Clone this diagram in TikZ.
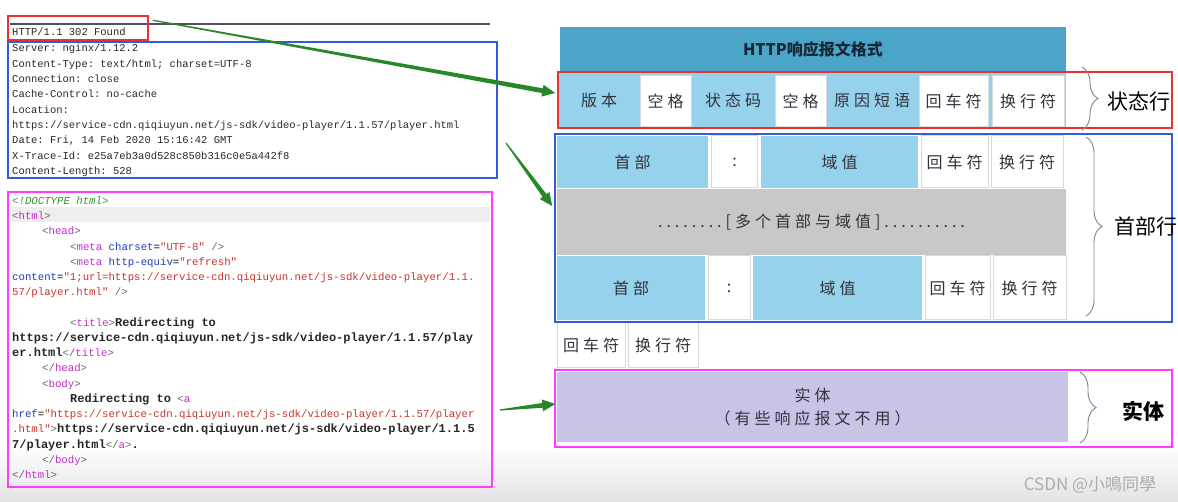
\documentclass[tikz,border=0pt]{standalone}
\usepackage{fontspec}
\setmainfont{Noto Sans CJK SC}
\setmonofont{Liberation Mono}
\newfontfamily\cellfont[LetterSpace=25]{Noto Sans CJK SC}
\usetikzlibrary{positioning,calc,decorations.pathreplacing}
\definecolor{framered}{RGB}{235,50,50}
\definecolor{frameblue}{RGB}{50,90,220}
\definecolor{framemagenta}{RGB}{255,60,255}
\definecolor{titleteal}{RGB}{75,165,200}
\definecolor{titletext}{RGB}{25,40,55}
\definecolor{cellblue}{RGB}{150,210,235}
\definecolor{bandgray}{RGB}{200,200,200}
\definecolor{entitypurple}{RGB}{200,196,230}
\definecolor{celltext}{RGB}{50,50,60}
\definecolor{bracegray}{RGB}{120,135,155}
\definecolor{arrowgreen}{RGB}{40,135,40}
\definecolor{monogray}{RGB}{40,40,40}
\definecolor{tagbracket}{RGB}{100,100,100}
\definecolor{tagname}{RGB}{200,40,200}
\definecolor{attrblue}{RGB}{30,60,190}
\definecolor{valred}{RGB}{200,50,40}
\definecolor{doctgreen}{RGB}{50,150,50}
\definecolor{linegray}{RGB}{80,80,95}
\definecolor{rowhighlight}{RGB}{238,238,238}

% html colouring
\newcommand{\codebr}[1]{\textcolor{tagbracket}{#1}}
\newcommand{\codeopen}[1]{\codebr{<}\textcolor{tagname}{#1}}
\newcommand{\codetag}[1]{\codeopen{#1}\codebr{>}}
\newcommand{\codeclose}[1]{\codebr{</}\textcolor{tagname}{#1}\codebr{>}}
\newcommand{\codeattr}[1]{\textcolor{attrblue}{#1}}
\newcommand{\codeval}[1]{\textcolor{valred}{#1}}
\newcommand{\codetxt}[1]{{\fontsize{12}{12}\selectfont\bfseries\color{black!85}#1}}
\newcommand{\codeind}[1]{\hspace*{#1pt}}

% green wedge arrow
\newcommand{\taperarrow}[2]{%
  \coordinate (tb) at ($(#2)!13pt!(#1)$);
  \fill[arrowgreen] ($(#1)!0.6pt!90:(#2)$) -- ($(tb)!2.4pt!90:(#2)$)
    -- ($(tb)!6pt!90:(#2)$) -- (#2) -- ($(tb)!6pt!-90:(#2)$)
    -- ($(tb)!2.4pt!-90:(#2)$) -- ($(#1)!0.6pt!-90:(#2)$) -- cycle;}

\begin{document}
\begin{tikzpicture}[x=1pt, y=-1pt,
  hdrline/.style={anchor=base west, inner sep=0pt, text=monogray,
                  font=\fontsize{10.5}{12}\ttfamily},
  codeline/.style={anchor=base west, inner sep=0pt,
                   font=\fontsize{10.7}{12}\ttfamily},
  markbox/.style={draw, line width=1.5pt, inner sep=0pt},
  cell/.style={inner sep=0pt, text=celltext,
               font=\cellfont\fontsize{16}{16}\selectfont},
  bluecell/.style={cell, fill=cellblue},
  whitecell/.style={cell, fill=white, draw=gray!30, line width=1pt},
  bracestyle/.style={decorate, decoration={brace, amplitude=16pt},
                     draw=bracegray, line width=0.9pt},
  bracelabel/.style={inner sep=0pt, font=\fontsize{21}{21}\selectfont}]

  \useasboundingbox (0,0) rectangle (1178,502);
  \shade[top color=white, bottom color=gray!22] (0,445) rectangle (1178,502);

  % ---- raw response, left ----
  \fill[rowhighlight] (10,207.5) rectangle (490,222.5);
  \draw[linegray, line width=1.2pt] (10,24) -- (490,24);

  \node[hdrline] (statustext) at (12,36) {HTTP/1.1 302 Found};
  \foreach \hdr [count=\i] in {Server: nginx/1.12.2,
      Content-Type: text/html; charset=UTF-8,
      Connection: close,
      Cache-Control: no-cache,
      Location:,
      https://service-cdn.qiqiuyun.net/js-sdk/video-player/1.1.57/player.html,
      {Date: Fri, 14 Feb 2020 15:16:42 GMT},
      X-Trace-Id: e25a7eb3a0d528c850b316c0e5a442f8,
      Content-Length: 528}
    \node[hdrline] (hdr\i) at (12,{52+15.3*(\i-1)}) {\hdr};

  \foreach \src [count=\i] in {
      {\textcolor{doctgreen}{\itshape <!DOCTYPE html>}},
      {\codetag{html}},
      {\codeind{30}\codetag{head}},
      {\codeind{58}\codeopen{meta} \codeattr{charset}=\codeval{"UTF-8"} \codebr{/>}},
      {\codeind{58}\codeopen{meta} \codeattr{http-equiv}=\codeval{"refresh"}},
      {\codeattr{content}=\codeval{"1;url=https://service-cdn.qiqiuyun.net/js-sdk/video-player/1.1.}},
      {\codeval{57/player.html"} \codebr{/>}},
      {},
      {\codeind{58}\codetag{title}\codetxt{Redirecting to}},
      {\codetxt{https://service-cdn.qiqiuyun.net/js-sdk/video-player/1.1.57/play}},
      {\codetxt{er.html}\codeclose{title}},
      {\codeind{30}\codeclose{head}},
      {\codeind{30}\codetag{body}},
      {\codeind{58}\codetxt{Redirecting to} \codeopen{a}},
      {\codeattr{href}=\codeval{"https://service-cdn.qiqiuyun.net/js-sdk/video-player/1.1.57/player}},
      {\codeval{.html"}\codebr{>}\codetxt{https://service-cdn.qiqiuyun.net/js-sdk/video-player/1.1.5}},
      {\codetxt{7/player.html}\codeclose{a}\codetxt{.}},
      {\codeind{30}\codeclose{body}},
      {\codeclose{html}}}
    \node[codeline] (src\i) at (12,{204.5+15.22*(\i-1)}) {\src};

  \node[markbox, draw=framered, minimum width=140pt, minimum height=24pt]
    (statusbox) at (78,28) {};
  \node[markbox, draw=frameblue, minimum width=489pt, minimum height=136pt]
    (headerbox) at (252.5,110) {};
  \node[markbox, draw=framemagenta, minimum width=484pt, minimum height=295pt]
    (bodybox) at (250,339.5) {};

  % ---- message format, right ----
  \node[fill=titleteal, minimum width=506pt, minimum height=45pt, text=titletext,
        font=\bfseries\fontsize{16}{16}\selectfont] (title) at (813,49.5)
    {HTTP响应报文格式};

  \node[bluecell, minimum width=508pt, minimum height=55pt] (statusrow) at (812,100.5) {};
  \node[cell] (sver) at (599,100) {版本};
  \node[whitecell, minimum width=51pt, minimum height=51pt] (ssp1) at (665.5,101.5) {空格};
  \node[cell] (scode) at (733,100) {状态码};
  \node[whitecell, minimum width=51pt, minimum height=51pt] (ssp2) at (800.5,101.5) {空格};
  \node[cell] (sreason) at (872,100) {原因短语};
  \node[whitecell, minimum width=69pt, minimum height=51pt] (scr) at (953.5,101.5) {回车符};
  \node[whitecell, minimum width=72pt, minimum height=51pt] (slf) at (1028,101.5) {换行符};

  \node[bluecell, minimum width=151pt, minimum height=52pt] (h1name) at (632.5,162) {首部};
  \node[whitecell, minimum width=46pt, minimum height=52pt] (h1colon) at (734.5,162) {:};
  \node[bluecell, minimum width=157pt, minimum height=52pt] (h1value) at (839.5,162) {域值};
  \node[whitecell, minimum width=67pt, minimum height=52pt] (h1cr) at (954.5,162) {回车符};
  \node[whitecell, minimum width=72pt, minimum height=52pt] (h1lf) at (1027,162) {换行符};

  \node[cell, fill=bandgray, minimum width=509pt, minimum height=66pt] (hmore)
    at (811.5,222) {........[多个首部与域值]..........};

  \node[bluecell, minimum width=148pt, minimum height=64pt] (h2name) at (631,288) {首部};
  \node[whitecell, minimum width=42pt, minimum height=64pt] (h2colon) at (729,288) {:};
  \node[bluecell, minimum width=169pt, minimum height=64pt] (h2value) at (837.5,288) {域值};
  \node[whitecell, minimum width=65pt, minimum height=64pt] (h2cr) at (957.5,288) {回车符};
  \node[whitecell, minimum width=73pt, minimum height=64pt] (h2lf) at (1029.5,288) {换行符};

  \node[whitecell, minimum width=68pt, minimum height=46pt] (endcr) at (591,345) {回车符};
  \node[whitecell, minimum width=70pt, minimum height=46pt] (endlf) at (663,345) {换行符};

  \node[cell, fill=entitypurple, minimum width=511pt, minimum height=70pt, align=center,
        font=\cellfont\fontsize{16}{23}\selectfont] (entity) at (812.5,407)
    {实体\\（有些响应报文不用）};

  \node[markbox, draw=framered, minimum width=614pt, minimum height=56pt]
    (statusframe) at (865,100) {};
  \node[markbox, draw=frameblue, minimum width=617pt, minimum height=188pt]
    (headerframe) at (863.5,228) {};
  \node[markbox, draw=framemagenta, minimum width=617pt, minimum height=77pt]
    (entityframe) at (863.5,408.5) {};

  \draw[bracestyle] (1082,67) -- (1082,130);
  \draw[bracestyle] (1086,137) -- (1086,316);
  \draw[bracestyle] (1080,372) -- (1080,443);
  \node[bracelabel] (lblstatus) at (1139,102) {状态行};
  \node[bracelabel] (lblheader) at (1146,227) {首部行};
  \node[bracelabel, font=\bfseries\fontsize{21}{21}\selectfont] (lblentity) at (1143,411) {实体};

  \node[text=gray!65, inner sep=0pt, font=\fontsize{17}{17}\selectfont] (mark)
    at (1090,485) {CSDN @小鳴同學};

  % arrows
  \coordinate (a1s) at ($(statusbox.north east)+(4,5)$);
  \coordinate (a1e) at ($(statusframe.west)+(-2,-7)$);
  \coordinate (a2s) at (506,143);
  \coordinate (a2e) at ($(headerframe.west)+(-2,-22)$);
  \coordinate (a3s) at (500,410);
  \coordinate (a3e) at ($(entityframe.west)+(1,-4.5)$);
  \taperarrow{a1s}{a1e}
  \taperarrow{a2s}{a2e}
  \taperarrow{a3s}{a3e}
\end{tikzpicture}
\end{document}
